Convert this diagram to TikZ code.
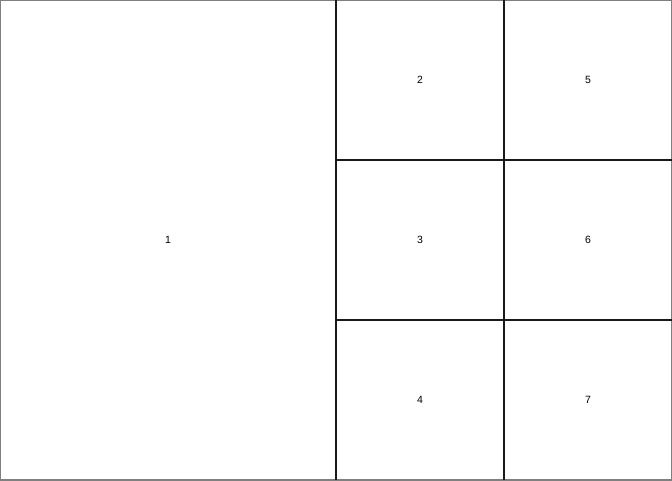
\documentclass[tikz,border=0pt]{standalone}
\usepackage{fontspec}
\setmainfont{Liberation Sans}
\usepackage{tikz}

\begin{document}
\begin{tikzpicture}[
            x=1pt, y=1pt,
            cell/.style={minimum width=168pt, minimum height=160pt, inner sep=0pt, font=\fontsize{10.5}{12}\selectfont},
            big/.style={cell, minimum width=336pt, minimum height=480pt},
            sep/.style={line width=2pt, draw=black!90},
        ]
        \useasboundingbox (0,0) rectangle (672,480);
        \fill[white] (0,0) rectangle (672,480);
        \draw[gray, line width=2pt] (0,0) rectangle (672,480);

        % Left panel
        \node[big] (p1) at (168,240) {1};

        % Middle column
        \node[cell] (p2) at (420,400) {2};
        \node[cell] (p3) at (420,240) {3};
        \node[cell] (p4) at (420,80)  {4};

        % Right column
        \node[cell] (p5) at (588,400) {5};
        \node[cell] (p6) at (588,240) {6};
        \node[cell] (p7) at (588,80)  {7};

        % Dividers
        \draw[sep] (p1.north east) -- (p1.south east);
        \draw[sep] (p2.north east) -- (p4.south east);
        \draw[sep] (p2.south west) -- (p5.south east);
        \draw[sep] (p3.south west) -- (p6.south east);
    \end{tikzpicture}
\end{document}
